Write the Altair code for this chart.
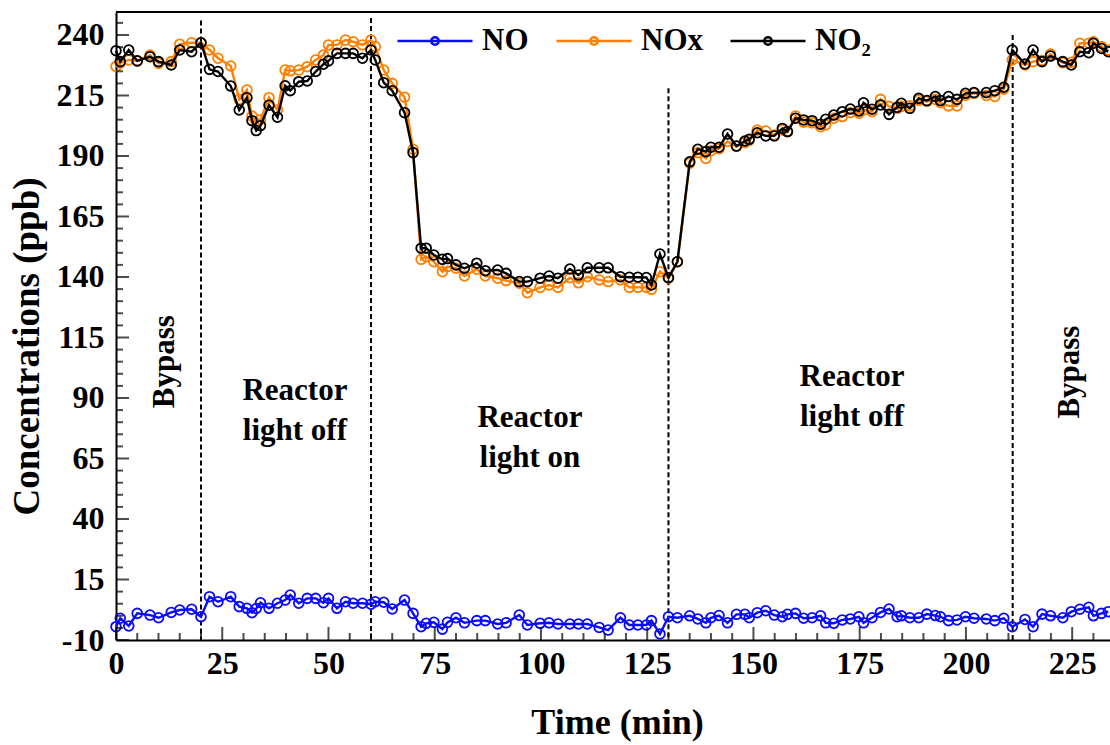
import altair as alt
import pandas as pd

# ---- data ----
time = [0, 1, 3, 5, 8, 10, 13, 15, 17.8, 20,
        22, 24, 27, 29, 30.8, 32, 33, 34, 36, 38,
        39.8, 41, 43, 45, 47, 48.8, 50, 52, 54, 55.8,
        58, 60, 61, 63, 65, 67.9, 69.9, 71.8, 73, 74.8,
        76.8, 78, 80, 82, 84.9, 86.9, 89.8, 91.8, 94.9, 96.8,
        99.8, 101.9, 104, 106.8, 108.8, 110.9, 113.7, 115.8, 118.7, 120.8,
        122.8, 124.8, 126, 128, 130, 132.1, 135, 136.9, 138.8, 140,
        141.9, 143.9, 146, 148, 149, 150.9, 152.9, 154.9, 156.8, 158,
        159.9, 161.8, 163.8, 165.8, 167, 168.9, 170.9, 172.8, 174.8, 175.9,
        177.9, 179.9, 181.9, 183.8, 184.8, 186.8, 188.9, 190.8, 192.8, 194,
        195.9, 197.9, 199.9, 201.9, 204.8, 206.8, 208.9, 210.9, 213.9, 215.8,
        217.9, 219.9, 222.8, 224.8, 226.8, 228.9, 230, 231.9, 233.5]

no2 = [233.5, 229, 233.8, 229.3, 231, 229, 227.6, 233.8, 233.1, 236.8,
       225.8, 224.9, 218.9, 209, 214.1, 204.6, 200.5, 202.5, 211, 206,
       219, 217, 220.7, 221, 224.9, 227.9, 229.3, 232.4, 232.4, 232.4,
       230.4, 233.8, 229.7, 220.3, 217, 207.9, 191.4, 151.9, 151.9, 149.1,
       147.3, 147.6, 145, 143.6, 145.7, 142.6, 142.9, 141.5, 138.1, 138.1,
       139.5, 140.4, 139.5, 143.3, 140.8, 143.8, 143.8, 143.8, 140.1, 139.9,
       139.9, 139.8, 136.7, 149.5, 139.7, 146.3, 187.6, 192.8, 191.8, 193.6,
       193.6, 199.1, 194.1, 196.2, 196.9, 199.6, 198.3, 198.3, 201.4, 200.1,
       205.6, 204.9, 204.6, 203.1, 205.2, 206.9, 208.3, 209.4, 208.6, 212,
       209.3, 211.1, 207.2, 210.1, 211.8, 209.7, 213.8, 212.9, 214.6, 212.9,
       214.6, 213.4, 215.9, 216.2, 216.2, 217, 218.4, 233.8, 228, 233.8,
       229, 231.3, 229, 227.6, 233.1, 232.7, 236.6, 234.4, 233.1]

nox = [227, 228.5, 229.7, 229.3, 231.7, 228.3, 229, 236.2, 236.8, 236.8,
       233.8, 230.4, 227.2, 213.4, 217.3, 206.5, 203.5, 205, 214.1, 209,
       225.5, 225.2, 225.5, 226.9, 229.7, 231.7, 235.9, 235.9, 237.9, 237.2,
       235.9, 237.9, 235.2, 225.5, 220, 214.3, 192.8, 147.3, 148.4, 146.3,
       142.2, 144.3, 143.6, 140.4, 143.2, 140.4, 139.5, 138.5, 137.4, 133.5,
       135.7, 136.7, 135.7, 139.7, 137.6, 140.1, 138.8, 138.1, 138.8, 135.7,
       135.7, 135.7, 134.9, 142.2, 139.5, 146.3, 187, 191.4, 189, 192.2,
       193, 196, 194, 195.5, 196.5, 200.7, 200.3, 198.7, 200.7, 200,
       206.5, 204, 203.7, 202.1, 202.8, 205.6, 206.3, 208, 207.7, 209,
       208.3, 213.4, 210.5, 209.7, 210.5, 210.7, 213, 212.5, 213.4, 212,
       210.7, 210.7, 215, 215.9, 215, 214.6, 217.6, 229.7, 227.6, 229,
       229.5, 232.1, 228.5, 228.7, 236.6, 236.6, 237.2, 235.2, 233.8]

no = [-4.5, -1, -4.2, 1, 0.3, -0.8, 1.4, 2.4, 2.7, -0.4,
      7.9, 5.8, 7.9, 3.8, 3.1, 1.3, 3, 5.4, 3.1, 5.2,
      6.5, 8.6, 5.2, 7.2, 7.2, 5.4, 7.2, 3.1, 5.8, 5.2,
      5.2, 4.8, 5.8, 5.6, 2.8, 6.5, 1, -4.5, -3.1, -2.7,
      -5.5, -2.7, -0.8, -2.9, -2, -2, -3.4, -2.9, 0.3, -3.8,
      -3.1, -2.9, -3.4, -3.4, -3.4, -3.4, -4.8, -5.9, -0.8, -3.8,
      -3.8, -3.8, -2, -7.5, -0.4, -0.8, 0, -1.3, -2.9, -0.8,
      0.1, -2.9, 0.6, 0.6, -0.8, 1.3, 2.1, 0.3, -0.4, 0.6,
      1, -1, -0.8, 0, -2.9, -3.1, -1.7, -1.3, -0.4, -2.9,
      -0.8, 1.4, 2.8, -0.4, 0, -0.8, -0.8, 0.7, 0.1, -0.4,
      -2, -1.7, -0.4, -1, -1.3, -2, -1, -4.5, -1.5, -4.5,
      0.7, 0, -0.8, 1.7, 2.7, 3.5, 0, 1, 1.7]

series = ["NO", "NOx", "NO\u2082"]
colors = ["#0a0aff", "#ff8000", "#000000"]

x_major = [0, 25, 50, 75, 100, 125, 150, 175, 200, 225]
y_major = [-10, 15, 40, 65, 90, 115, 140, 165, 190, 215, 240]

switch_times = [20, 60, 130, 211]
switch_tops = [246, 247, 218, 240]

ann_x = [11.5, 42.1, 97.4, 173.2, 224.5]
ann_y = [105, 92.9, 81.7, 98.7, 100.7]
ann_text = ["Bypass", "Reactor\nlight off", "Reactor\nlight on", "Reactor\nlight off", "Bypass"]

# ---- tables ----
rows = []
for t, a, b, c in zip(time, no, nox, no2):
    rows.append({"t": t, "v": a, "s": series[0]})
    rows.append({"t": t, "v": b, "s": series[1]})
    rows.append({"t": t, "v": c, "s": series[2]})
df = pd.DataFrame(rows)

x_minor = [v for v in range(0, 234, 5) if v not in x_major]
y_minor = [v for v in range(-10, 250, 5) if v not in y_major]
sw = pd.DataFrame({"t": switch_times, "top": switch_tops, "bot": [-10] * len(switch_times)})
ann = pd.DataFrame({"t": ann_x, "v": ann_y, "text": ann_text})

W, H = 994, 628
FONT = "Liberation Serif"
xs = alt.Scale(domain=[0, 233.9], nice=False, zero=False)
ys = alt.Scale(domain=[-10, 249.5], nice=False, zero=False)

LEG_PATH = "M-1,0L1,0M-0.1,0A0.1,0.1,0,1,1,0.1,0A0.1,0.1,0,1,1,-0.1,0"
color = alt.Color(
    "s:N",
    scale=alt.Scale(domain=series, range=colors),
    legend=alt.Legend(
        title=None, orient="none", legendX=280, legendY=-10, direction="horizontal",
        symbolType=LEG_PATH, symbolSize=5625, symbolStrokeWidth=2.5,
        labelFont=FONT, labelFontWeight="bold", labelFontSize=31, labelColor="black",
        labelOffset=8, columnPadding=22, labelLimit=0, padding=0,
    ),
)

x_enc = alt.X("t:Q", scale=xs, axis=alt.Axis(
    title="Time (min)", values=x_major, ticks=False, grid=False, labelFlush=False,
    labelExpr="'' + datum.value",
    domainColor="black", domainWidth=2,
    labelFont=FONT, labelFontWeight="bold", labelFontSize=32, labelColor="black", labelPadding=8,
    titleFont=FONT, titleFontWeight="bold", titleFontSize=36, titleColor="black",
    titleX=501, titleY=82, titleBaseline="middle", titleAlign="center",
))
y_enc = alt.Y("v:Q", scale=ys, axis=alt.Axis(
    title="Concentrations (ppb)", values=y_major, ticks=False, grid=False, labelFlush=False,
    labelExpr="'' + datum.value",
    domainColor="black", domainWidth=2,
    labelFont=FONT, labelFontWeight="bold", labelFontSize=32, labelColor="black", labelPadding=12,
    titleFont=FONT, titleFontWeight="bold", titleFontSize=37, titleColor="black",
    titleX=-89, titleY=334, titleBaseline="middle", titleAlign="center", titleAngle=-90,
))

base = alt.Chart(df)
layers = []
for s in series:
    sub = base.transform_filter(alt.datum.s == s)
    layers.append(sub.mark_line(strokeWidth=2.4).encode(x=x_enc, y=y_enc, color=color))
    layers.append(sub.mark_point(shape="circle", filled=False, size=95, strokeWidth=1.8, opacity=1)
                  .encode(x=x_enc, y=y_enc, color=color))

# inward ticks
xmaj = alt.Chart(pd.DataFrame({"t": x_major})).mark_tick(color="black", size=13, thickness=2, orient="vertical").encode(
    x=alt.X("t:Q", scale=xs), y=alt.value(H - 6.5))
xmin = alt.Chart(pd.DataFrame({"t": x_minor})).mark_tick(color="black", size=7, thickness=2, orient="vertical").encode(
    x=alt.X("t:Q", scale=xs), y=alt.value(H - 3.5))
ymaj = alt.Chart(pd.DataFrame({"v": y_major})).mark_tick(color="black", size=13, thickness=2, orient="horizontal").encode(
    y=alt.Y("v:Q", scale=ys), x=alt.value(6.5))
ymin = alt.Chart(pd.DataFrame({"v": y_minor})).mark_tick(color="black", size=7, thickness=2, orient="horizontal").encode(
    y=alt.Y("v:Q", scale=ys), x=alt.value(3.5))

top_border = alt.Chart(pd.DataFrame({"a": [0]})).mark_rule(color="black", strokeWidth=2).encode(
    x=alt.value(0), x2=alt.value(W), y=alt.value(0))

switches = alt.Chart(sw).mark_rule(color="black", strokeWidth=2, strokeDash=[5, 3]).encode(
    x=alt.X("t:Q", scale=xs), y=alt.Y("top:Q", scale=ys), y2="bot:Q")

ann_h = alt.Chart(ann[ann.text != "Bypass"]).mark_text(
    font=FONT, fontWeight="bold", fontSize=31, color="black", lineBreak="\n", lineHeight=40,
    align="center", baseline="middle").encode(
    x=alt.X("t:Q", scale=xs), y=alt.Y("v:Q", scale=ys), text="text:N")
ann_v = alt.Chart(ann[ann.text == "Bypass"]).mark_text(
    font=FONT, fontWeight="bold", fontSize=31, color="black", angle=270,
    align="center", baseline="middle").encode(
    x=alt.X("t:Q", scale=xs), y=alt.Y("v:Q", scale=ys), text="text:N")

chart = alt.layer(
    switches, ann_h, ann_v, *layers, xmaj, xmin, ymaj, ymin, top_border
).properties(
    width=W, height=H,
    autosize=alt.AutoSizeParams(type="none"),
    padding={"left": 116, "top": 12, "right": 0, "bottom": 105},
    background="white",
).configure_view(strokeWidth=0)

chart.save("out.html", embed_options={"renderer": "svg", "actions": False})
